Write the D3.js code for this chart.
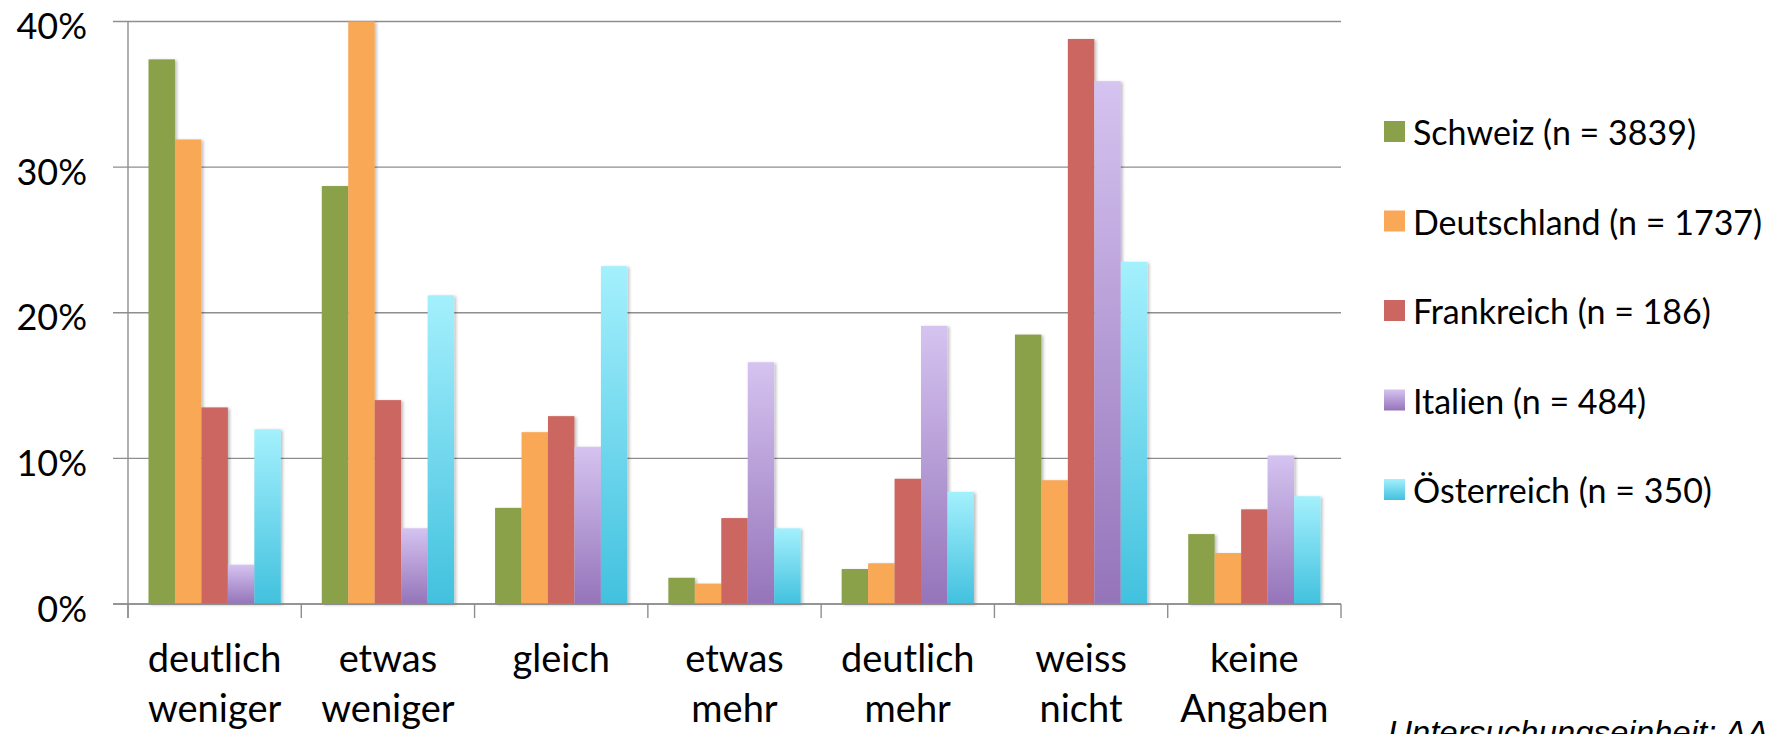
<!DOCTYPE html>
<html><head><meta charset="utf-8">
<script src="https://cdn.jsdelivr.net/npm/d3@7"></script>
<style>
html,body{margin:0;padding:0;background:#fff;overflow:hidden;}
svg{display:block;}
</style></head>
<body>
<svg id="chart" width="1778" height="734"></svg>
<script>
const categories = [["deutlich","weniger"],["etwas","weniger"],["gleich"],["etwas","mehr"],["deutlich","mehr"],["weiss","nicht"],["keine","Angaben"]];
const seriesNames = ["Schweiz (n = 3839)","Deutschland (n = 1737)","Frankreich (n = 186)","Italien (n = 484)","Österreich (n = 350)"];
const schweiz     = [37.4, 28.7, 6.6, 1.8, 2.4, 18.5, 4.8];
const deutschland = [31.9, 40.0, 11.8, 1.4, 2.8, 8.5, 3.5];
const frankreich  = [13.5, 14.0, 12.9, 5.9, 8.6, 38.8, 6.5];
const italien     = [2.7, 5.2, 10.8, 16.6, 19.1, 35.9, 10.2];
const oesterreich = [12.0, 21.2, 23.2, 5.2, 7.7, 23.5, 7.4];
const yTicks = [0, 10, 20, 30, 40];
const footer = "Untersuchungseinheit: AA";

const seriesValues = [schweiz, deutschland, frankreich, italien, oesterreich];
const fills = [
  {type:"solid", c:"#8AA04A"},
  {type:"solid", c:"#F9A857"},
  {type:"solid", c:"#CC6660"},
  {type:"grad", top:"#D5C3F0", bottom:"#9574BA"},
  {type:"grad", top:"#A4F0FD", bottom:"#42C1DE"}
];

const svg = d3.select("#chart");
const defs = svg.append("defs");
fills.forEach((f,i)=>{
  if(f.type==="grad"){
    const g = defs.append("linearGradient").attr("id","g"+i).attr("x1",0).attr("y1",0).attr("x2",0).attr("y2",1);
    g.append("stop").attr("offset","0%").attr("stop-color",f.top);
    g.append("stop").attr("offset","100%").attr("stop-color",f.bottom);
  }
});
const fillOf = i => fills[i].type==="grad" ? "url(#g"+i+")" : fills[i].c;
const flt = defs.append("filter").attr("id","sh").attr("x","-20%").attr("y","-5%").attr("width","150%").attr("height","115%");
flt.append("feDropShadow").attr("dx",2).attr("dy",1).attr("stdDeviation",1.5).attr("flood-color","#000").attr("flood-opacity",0.25);

const pLeft = 128, pRight = 1341, pTop = 21.5, pBottom = 604;
const x = d3.scaleBand().domain(d3.range(categories.length)).range([pLeft, pRight]).paddingInner(0).paddingOuter(0);
const bw = x.bandwidth();
const xi = d3.scaleBand().domain(d3.range(seriesNames.length)).range([20.5, bw-20.5]).padding(0);
const y = d3.scaleLinear().domain([0,40]).range([pBottom, pTop]);

const gridColor = "#8e8e8e";
svg.append("g").selectAll("line").data(yTicks).join("line")
  .attr("x1", pLeft-15).attr("x2", pRight)
  .attr("y1", d=>y(d)).attr("y2", d=>y(d))
  .attr("stroke", gridColor).attr("stroke-width",1.4);

svg.append("g").selectAll("text").data(yTicks).join("text")
  .attr("x", 87).attr("y", d=>y(d)+17.5)
  .attr("text-anchor","end")
  .attr("font-family","Lato, 'Open Sans', sans-serif").attr("font-size",36).attr("fill","#000")
  .text(d=>d+"%");

const barsG = svg.append("g");
seriesValues.forEach((vals, si)=>{
  barsG.append("g").selectAll("rect").data(vals).join("rect")
    .attr("x",(d,ci)=>x(ci)+xi(si))
    .attr("width", xi.bandwidth())
    .attr("y", d=>y(d))
    .attr("height", d=>y(0)-y(d))
    .attr("fill", fillOf(si))
    .attr("filter","url(#sh)");
});

svg.append("line").attr("x1",pLeft).attr("x2",pLeft).attr("y1",pTop).attr("y2",pBottom+14)
  .attr("stroke",gridColor).attr("stroke-width",1.4);
svg.append("line").attr("x1",pLeft-15).attr("x2",pRight).attr("y1",pBottom).attr("y2",pBottom)
  .attr("stroke",gridColor).attr("stroke-width",1.4);
svg.append("g").selectAll("line").data(d3.range(categories.length+1)).join("line")
  .attr("x1", i=> i<categories.length ? x(i) : pRight)
  .attr("x2", i=> i<categories.length ? x(i) : pRight)
  .attr("y1", pBottom).attr("y2", pBottom+14)
  .attr("stroke",gridColor).attr("stroke-width",1.4);

const catG = svg.append("g");
categories.forEach((lines, ci)=>{
  const t = catG.append("text")
    .attr("x", x(ci)+bw/2).attr("y", 672)
    .attr("text-anchor","middle")
    .attr("font-family","Lato, 'Open Sans', sans-serif").attr("font-size",38).attr("fill","#000");
  lines.forEach((l,li)=>{
    t.append("tspan").attr("x", x(ci)+bw/2).attr("dy", li===0?0:50).text(l);
  });
});

const lg = svg.append("g");
seriesNames.forEach((n,i)=>{
  const by = 145 + i*89.5;
  lg.append("rect").attr("x",1384).attr("y",by-24).attr("width",21).attr("height",21).attr("fill",fillOf(i));
  lg.append("text").attr("x",1413).attr("y",by)
    .attr("font-family","Lato, 'Open Sans', sans-serif").attr("font-size",34).attr("fill","#000")
    .text(n);
});

svg.append("text").attr("x",1388).attr("y",744)
  .attr("font-family","'Liberation Sans', Arial, sans-serif").attr("font-style","italic")
  .attr("font-size",33).attr("fill","#000").text(footer);
</script>
</body></html>
